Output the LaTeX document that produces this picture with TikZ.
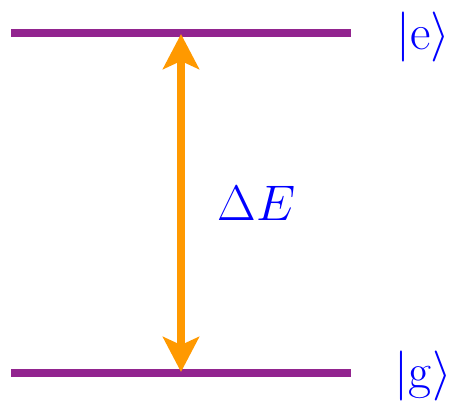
\documentclass[tikz,border=0pt]{standalone}
\usetikzlibrary{arrows.meta}
\definecolor{levelpurple}{RGB}{146,36,143}
\definecolor{arroworange}{RGB}{255,153,0}
\newcommand{\biglab}[1]{\scalebox{2.01}{\Huge #1}}
\begin{document}
\begin{tikzpicture}[x=1pt,y=-1pt,
  level/.style={draw=levelpurple,line width=8pt},
  transition/.style={draw=arroworange,line width=8pt,
    {Stealth[length=35pt,width=36pt,inset=8pt]}-{Stealth[length=35pt,width=36pt,inset=8pt]}},
  lab/.style={text=blue,inner sep=0pt}]
\useasboundingbox (0,0) rectangle (452,401);
\coordinate (eL) at (11,33);
\coordinate (eR) at (351,33);
\coordinate (gL) at (11,373);
\coordinate (gR) at (351,373);
\coordinate (eT) at (181,34);
\coordinate (gT) at (181,372);
\draw[level] (eL) -- (eR);
\draw[level] (gL) -- (gR);
\draw[transition] (gT) -- (eT);
\node[lab] (ket e) at (423,37) {\biglab{$|\mathrm{e}\rangle$}};
\node[lab] (ket g) at (423,376) {\biglab{$|\mathrm{g}\rangle$}};
\node[lab,anchor=base] (dE) at (256.5,220) {\biglab{$\Delta E$}};
\end{tikzpicture}
\end{document}
